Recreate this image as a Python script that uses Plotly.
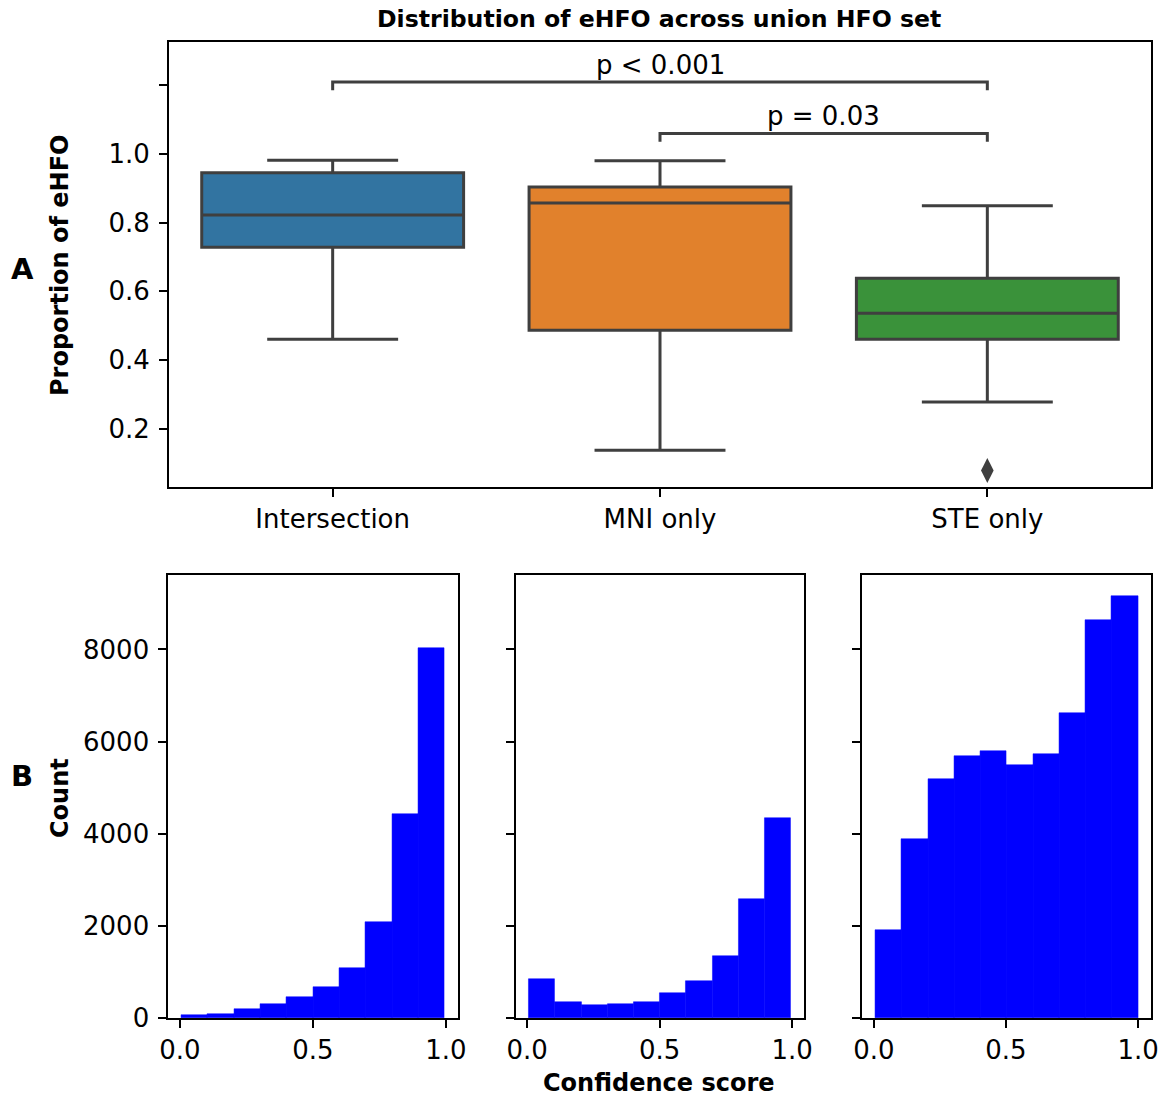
import numpy as np
import plotly.graph_objects as go

# ---------------- data ----------------
categories = ["Intersection", "MNI only", "STE only"]
box_lower = [0.461, 0.138, 0.278]
box_q1 = [0.728, 0.487, 0.461]
box_median = [0.822, 0.857, 0.536]
box_q3 = [0.945, 0.903, 0.638]
box_upper = [0.981, 0.980, 0.849]
outlier_category = ["STE only"]
outlier_values = [0.079]
box_colors = ["#3274a1", "#e1812c", "#3a923a"]

brackets = [  # (from category, to category, level, label)
    ("Intersection", "STE only", 1.209, "p < 0.001"),
    ("MNI only", "STE only", 1.059, "p = 0.03"),
]

hist_intersection = [72, 94, 195, 311, 462, 679, 1091, 2088, 4423, 8022]
hist_mni = [853, 361, 296, 311, 361, 542, 802, 1344, 2580, 4343]
hist_ste = [1922, 3895, 5189, 5681, 5789, 5499, 5730, 6627, 8636, 9157]
hist_ranges = [(0.006, 0.995), (0.006, 0.995), (0.006, 0.999)]
hist_ticks = [0.0, 0.5, 1.0]
hist_tick_text = ["0.0", "0.5", "1.0"]
count_ticks = [0, 2000, 4000, 6000, 8000]

# ---------------- figure ----------------
W, H = 1170, 1098
FONT = "DejaVu Sans"
FS = 26
EDGE = "#3f3f3f"

fig = go.Figure()
xpos = {c: i for i, c in enumerate(categories)}

for i, c in enumerate(categories):
    fig.add_trace(go.Box(
        x=[i], q1=[box_q1[i]], median=[box_median[i]], q3=[box_q3[i]],
        lowerfence=[box_lower[i]], upperfence=[box_upper[i]],
        width=0.8, whiskerwidth=0.5, fillcolor=box_colors[i],
        line=dict(color=EDGE, width=3), boxpoints=False,
        xaxis="x", yaxis="y", showlegend=False, hoverinfo="skip"))

fig.add_trace(go.Scatter(
    x=[xpos[c] for c in outlier_category], y=outlier_values, mode="markers",
    marker=dict(symbol="diamond-tall", size=18, color=EDGE, line=dict(width=0)),
    xaxis="x", yaxis="y", showlegend=False))

drop = 0.024
for a, b, lvl, lab in brackets:
    xa, xb = xpos[a], xpos[b]
    fig.add_trace(go.Scatter(
        x=[xa, xa, xb, xb], y=[lvl - drop, lvl, lvl, lvl - drop], mode="lines",
        line=dict(color=EDGE, width=3), xaxis="x", yaxis="y", showlegend=False))
    fig.add_annotation(x=(xa + xb) / 2, y=lvl, xref="x", yref="y",
                       text=lab, showarrow=False, yanchor="bottom",
                       font=dict(family=FONT, size=FS, color="#000"))

# histograms
hists = [hist_intersection, hist_mni, hist_ste]
for k, counts in enumerate(hists):
    lo, hi = hist_ranges[k]
    edges = np.linspace(lo, hi, len(counts) + 1)
    centers = (edges[:-1] + edges[1:]) / 2
    widths = np.diff(edges)
    fig.add_trace(go.Bar(
        x=centers, y=counts, width=widths,
        marker=dict(color="#0000ff", line=dict(color="#0000ff", width=0.5)),
        xaxis=f"x{k + 2}", yaxis=f"y{k + 2}", showlegend=False))

axis_common = dict(showline=True, mirror=True, linecolor="black", linewidth=1.8,
                   ticks="outside", ticklen=8, tickwidth=1.6, tickcolor="black",
                   showgrid=False, zeroline=False, automargin=False,
                   tickfont=dict(family=FONT, size=FS, color="black"))

fig.update_layout(
    template="none",
    width=W, height=H, autosize=False,
    margin=dict(l=0, r=0, t=0, b=0, pad=0),
    paper_bgcolor="white", plot_bgcolor="white",
    font=dict(family=FONT, size=FS, color="black"),
    xaxis=dict(domain=[169 / W, 1151 / W], range=[-0.5, 2.5],
               tickvals=list(range(len(categories))), ticktext=categories,
               anchor="y", **axis_common),
    yaxis=dict(domain=[1 - 487 / H, 1 - 42 / H], range=[0.031, 1.325],
               tickvals=[0.2, 0.4, 0.6, 0.8, 1.0, 1.2],
               ticktext=["0.2", "0.4", "0.6", "0.8", "1.0", ""],
               ticklabelstandoff=4, anchor="x", **axis_common),
)

ymax = 1.05 * max(max(h) for h in hists)
xdoms = [(168.3, 457.7), (515.7, 804.0), (862.3, 1151.0)]
for k in range(3):
    lo, hi = hist_ranges[k]
    pad = 0.05 * (hi - lo)
    xa = f"xaxis{k + 2}"
    ya = f"yaxis{k + 2}"
    fig.update_layout(**{
        xa: dict(domain=[xdoms[k][0] / W, xdoms[k][1] / W], range=[lo - pad, hi + pad],
                 tickvals=hist_ticks, ticktext=hist_tick_text, anchor=f"y{k + 2}",
                 **axis_common),
        ya: dict(domain=[1 - 1018.3 / H, 1 - 575 / H], range=[0, ymax],
                 tickvals=count_ticks,
                 ticktext=[str(t) for t in count_ticks] if k == 0 else [""] * len(count_ticks),
                 ticklabelstandoff=4, anchor=f"x{k + 2}", **axis_common),
    })

fig.update_layout(bargap=0, barmode="overlay")

# titles / labels
def label(text, x, y, size=24, bold=True, angle=0):
    fig.add_annotation(x=x / W, y=1 - y / H, xref="paper", yref="paper",
                       text=f"<b>{text}</b>" if bold else text, showarrow=False,
                       textangle=angle, xanchor="center", yanchor="middle",
                       font=dict(family=FONT, size=size, color="black"))

label("Distribution of eHFO across union HFO set", 659, 19, size=23.6)
label("Proportion of eHFO", 60, 265, angle=-90)
label("Count", 60, 798, angle=-90)
label("Confidence score", 659, 1083)
label("A", 22, 269, size=29)
label("B", 22, 776, size=29)

fig.write_html("out.html")
